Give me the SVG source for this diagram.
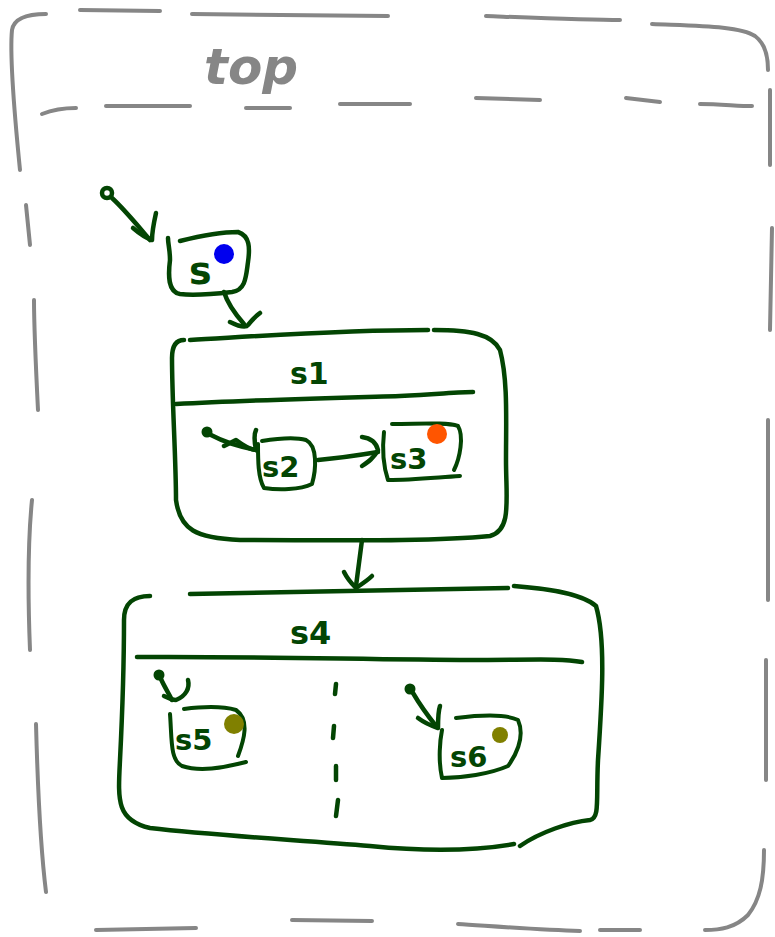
<svg xmlns="http://www.w3.org/2000/svg" width="775" height="937" viewBox="0 0 775 937">
  <style>
    .frame { fill: none; stroke: #868686; stroke-width: 4; stroke-linecap: round; stroke-linejoin: round; }
    .ink { fill: none; stroke: #034503; stroke-width: 4.5; stroke-linecap: round; stroke-linejoin: round; }
    .thin { stroke-width: 4; }
    .lbl { font-family: "DejaVu Sans", "Liberation Sans", sans-serif; fill: #034503; font-weight: bold; }
    .title { font-family: "DejaVu Sans", "Liberation Sans", sans-serif; fill: #868686; font-weight: bold; }
    .dot { fill: #034503; stroke: #034503; stroke-width: 3; }
  </style>
  <rect width="775" height="937" fill="#ffffff"/>

  <!-- outer composite state "top" -->
  <g id="top">
    <path class="frame" d="M20 170 C14 110 10 50 12 30 C14 18 28 14 46 14"/>
    <path class="frame" d="M80 10 L160 11"/>
    <path class="frame" d="M192 14 L388 16"/>
    <path class="frame" d="M486 16 C540 18 590 20 620 20"/>
    <path class="frame" d="M652 24 C700 26 740 26 755 36 C766 44 768 60 768 70"/>
    <path class="frame" d="M770 90 L770 165"/>
    <path class="frame" d="M772 228 L770 330"/>
    <path class="frame" d="M768 420 L768 600"/>
    <path class="frame" d="M766 660 L766 780"/>
    <path class="frame" d="M764 850 C764 880 760 900 748 915 C735 928 720 930 705 930"/>
    <path class="frame" d="M640 930 L600 930"/>
    <path class="frame" d="M580 931 C540 930 490 926 458 924"/>
    <path class="frame" d="M372 921 L292 920"/>
    <path class="frame" d="M196 928 L96 930"/>
    <path class="frame" d="M46 892 C42 860 38 800 36 724"/>
    <path class="frame" d="M30 650 C28 600 28 540 32 500"/>
    <path class="frame" d="M38 410 C36 370 34 330 34 300"/>
    <path class="frame" d="M30 245 L26 205"/>
    <!-- title separator -->
    <path class="frame" d="M42 114 C52 110 64 108 76 108"/>
    <path class="frame" d="M106 106 L190 106"/>
    <path class="frame" d="M246 108 L290 108"/>
    <path class="frame" d="M340 104 L410 104"/>
    <path class="frame" d="M476 98 L540 100"/>
    <path class="frame" d="M626 98 L660 102"/>
    <path class="frame" d="M700 104 C720 104 738 106 752 106"/>
    <text class="title" x="204" y="84" font-size="50" font-style="italic">top</text>
  </g>

  <g id="connectors">
    <!-- initial to s -->
    <circle cx="107" cy="193" r="5" class="ink" stroke-width="5"/>
    <path class="ink" d="M112 198 C125 210 138 226 150 240"/>
    <path class="ink" d="M133 228 C140 234 146 238 152 240 C152 232 154 222 156 213"/>
    <!-- s to s1 -->
    <path class="ink" d="M224 292 C228 305 236 315 244 324"/>
    <path class="ink" d="M230 322 C238 326 246 328 248 325 C252 320 256 316 260 313"/>
    <!-- initial to s2 -->
    <circle cx="207" cy="432" r="4" class="dot"/>
    <path class="ink" d="M211 435 C224 442 236 446 256 450"/>
    <path class="ink" d="M224 446 L236 440 C244 446 250 450 256 450 C254 440 254 434 256 430"/>
    <!-- s2 to s3 -->
    <path class="ink" d="M318 460 C340 458 360 455 378 452"/>
    <path class="ink" d="M362 437 C370 438 376 442 378 450 C374 458 368 462 362 466"/>
    <!-- s1 to s4 -->
    <path class="ink" d="M362 540 C360 556 358 570 356 586"/>
    <path class="ink" d="M344 572 C348 580 352 584 356 588 C362 584 368 580 372 576"/>
    <!-- initial to s5 -->
    <circle cx="159" cy="675" r="4" class="dot"/>
    <path class="ink" d="M161 679 C164 686 168 692 172 700"/>
    <path class="ink" d="M164 696 C168 698 172 700 176 700 C186 696 190 688 188 680"/>
    <!-- initial to s6 -->
    <circle cx="410" cy="689" r="4" class="dot"/>
    <path class="ink" d="M413 693 C420 705 428 716 436 726"/>
    <path class="ink" d="M418 718 C426 724 432 726 438 728 C438 720 438 712 440 706"/>
  </g>

  <g id="s">
    <path class="ink" d="M180 241 C200 236 220 232 238 232 C250 236 250 248 248 262 C246 276 246 290 232 292 C214 294 196 296 180 294 C168 292 168 276 170 260 C170 250 168 244 168 238"/>
    <circle cx="224" cy="254" r="10" fill="#0000ee"/>
    <text class="lbl" x="189" y="284" font-size="38" font-weight="normal">s</text>
  </g>

  <g id="s1">
    <path class="ink" d="M190 340 C260 336 340 330 428 330 M434 330 C470 330 492 334 500 350 C508 380 506 420 506 460 C506 500 512 530 490 536 C430 542 330 540 240 540 C196 538 180 530 176 500 C176 460 172 400 172 358 C172 346 176 340 184 340"/>
    <path class="ink" d="M176 404 C250 400 330 398 400 396 C440 394 460 392 473 392"/>
    <text class="lbl" x="290" y="384" font-size="30">s1</text>
  </g>

  <g id="s2">
    <path class="ink thin" d="M262 441 C280 438 296 437 306 440 C318 446 316 470 312 484 C300 490 278 490 264 488 C258 478 258 460 258 444"/>
    <text class="lbl" x="262" y="477" font-size="29">s2</text>
  </g>

  <g id="s3">
    <path class="ink thin" d="M392 424 C420 424 446 422 458 426 C464 436 460 458 454 470 M384 432 C382 450 384 468 388 480 C410 480 430 478 460 476"/>
    <circle cx="437" cy="434" r="10" fill="#ff5500"/>
    <text class="lbl" x="390" y="469" font-size="29">s3</text>
  </g>

  <g id="s4">
    <path class="ink" d="M190 594 C290 592 400 590 508 588 M514 586 C540 588 580 592 596 606 C606 640 602 700 598 760 C596 800 600 818 590 820 C570 822 540 832 520 846 M514 844 C480 850 430 852 370 846 C300 840 220 836 150 828 C116 820 118 800 120 760 C122 720 124 660 124 620 C124 602 134 596 150 596"/>
    <path class="ink" d="M137 657 C250 656 380 660 470 660 C530 660 560 658 582 662"/>
    <path class="ink" d="M336 684 L335 694 M334 726 L333 738 M336 766 L336 780 M338 800 L336 816"/>
    <text class="lbl" x="290" y="644" font-size="32">s4</text>
  </g>

  <g id="s5">
    <path class="ink thin" d="M184 709 C200 707 222 706 236 710 C250 720 244 740 238 756 M170 714 C172 740 170 760 182 766 C200 772 222 768 246 762"/>
    <circle cx="234" cy="724" r="10" fill="#808000"/>
    <text class="lbl" x="175" y="750" font-size="29">s5</text>
  </g>

  <g id="s6">
    <path class="ink thin" d="M456 718 C480 715 506 714 518 720 C526 738 514 758 508 766 C490 774 462 778 442 778 C438 760 440 740 442 730"/>
    <circle cx="500" cy="735" r="8" fill="#808000"/>
    <text class="lbl" x="450" y="767" font-size="29">s6</text>
  </g>
</svg>
